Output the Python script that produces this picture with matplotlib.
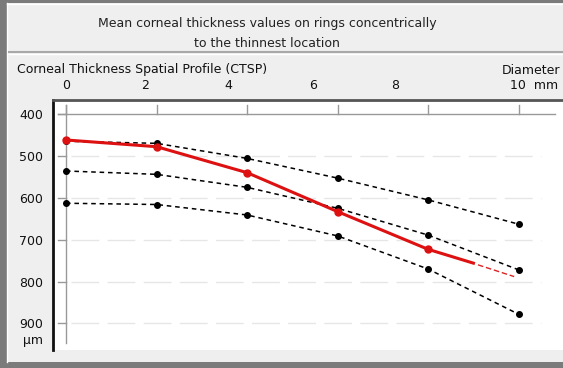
import matplotlib.pyplot as plt
from matplotlib.patches import Rectangle
from matplotlib.lines import Line2D

# ring diameters (mm) and thickness values (um)
diam = [0, 2, 4, 6, 8, 10]
upper = [465, 470, 506, 553, 605, 663]
middle = [536, 544, 575, 625, 689, 772]
lower = [613, 616, 641, 691, 770, 878]

mean_x = [0, 2, 4, 6, 8, 9.0]
mean_y = [462, 478, 540, 633, 723, 756]
ext_x = [9.1, 9.9]
ext_y = [760, 788]

yticks = [400, 500, 600, 700, 800, 900]
xtick_labels = ['0', '2', '4', '6', '8']
xlabel_pos = [0, 1.75, 3.58, 5.46, 7.27]

W, H = 563, 368
fig = plt.figure(figsize=(W / 100, H / 100), dpi=100)
fig.patch.set_facecolor('#7b7b7b')
plt.rcParams['font.family'] = 'DejaVu Sans'
FS = 9


def fx(px):
    return px / W


def fy(py):
    return 1 - py / H


# light panel + title separator
fig.add_artist(Rectangle((fx(7), fy(362)), fx(563 - 7), (362 - 3) / H,
                         transform=fig.transFigure, facecolor='#efefef',
                         edgecolor='none', zorder=-5))
fig.add_artist(Line2D([fx(7), 1], [fy(3.5), fy(3.5)], color='white', lw=1, zorder=-4))
fig.add_artist(Line2D([fx(7.5), fx(7.5)], [fy(3), fy(362)], color='white', lw=1, zorder=-4))
fig.add_artist(Line2D([fx(9), 1], [fy(52), fy(52)], color='#a8a8a8', lw=1.5, zorder=-4))
fig.add_artist(Line2D([fx(9), 1], [fy(54), fy(54)], color='white', lw=1, zorder=-4))

fig.text(fx(267), fy(27), 'Mean corneal thickness values on rings concentrically',
         ha='center', va='baseline', fontsize=FS, color='#222222')
fig.text(fx(267), fy(47), 'to the thinnest location',
         ha='center', va='baseline', fontsize=FS, color='#222222')
fig.text(fx(17), fy(73), 'Corneal Thickness Spatial Profile (CTSP)',
         ha='left', va='baseline', fontsize=FS, color='#111111')
fig.text(fx(560), fy(74), 'Diameter', ha='right', va='baseline',
         fontsize=FS, color='#111111')

# plot area in pixel coordinates
ax = fig.add_axes([fx(53), fy(350), fx(563 - 53), (350 - 100) / H])
ax.set_facecolor('white')
px_per_mm = 45.27
px_per_um = 0.419
ax.set_xlim(-13 / px_per_mm, 497 / px_per_mm)
ax.set_ylim(400 + 236 / px_per_um, 400 - 14 / px_per_um)

for s in ['right', 'bottom']:
    ax.spines[s].set_visible(False)
ax.spines['left'].set_color('#111111')
ax.spines['left'].set_linewidth(2)
ax.spines['top'].set_color('#555555')
ax.spines['top'].set_linewidth(2)

ax.set_xticks([])
ax.set_yticks(yticks)
ax.set_yticklabels([str(v) for v in yticks], fontsize=FS, color='#111111')
ax.tick_params(axis='y', length=0, pad=7)

# x tick labels above the plot
lab_y = 400 - 25 / px_per_um
for p, lab in zip(xlabel_pos, xtick_labels):
    ax.text(p, lab_y, lab, ha='center', va='baseline',
            fontsize=FS, color='#111111', clip_on=False)
ax.text(492 / px_per_mm, lab_y, '10  mm', ha='right',
        va='baseline', fontsize=FS, color='#111111', clip_on=False)
ax.text(-0.51, 900 + 17 / px_per_um, 'µm', ha='right', va='center',
        fontsize=FS, color='#111111', clip_on=False)

# internal axis lines
ax.plot([-0.18, 10.8], [400, 400], color='#999999', lw=1, zorder=1)
ax.plot([0, 0], [378, 946], color='#999999', lw=1, zorder=1)
for d in diam:
    ax.plot([d, d], [378, 400], color='#999999', lw=1, zorder=1)
for v in yticks:
    ax.plot([-0.18, 0], [v, v], color='#999999', lw=1, zorder=1)
for v in yticks[1:]:
    ax.plot([0.1, 10.5], [v, v], color='#e6e6e6', lw=1,
            dashes=(20, 6), zorder=1)

# percentile curves
for vals in (upper, middle, lower):
    ax.plot(diam, vals, color='black', lw=1.1, dashes=(3, 2.5),
            marker='o', markersize=4, zorder=3)

# mean curve
ax.plot(mean_x, mean_y, color='#dd1111', lw=2.2, zorder=4)
ax.plot(mean_x[:5], mean_y[:5], ls='none', marker='o', color='#dd1111',
        markersize=5, zorder=5)
ax.plot(ext_x, ext_y, color='#dd2222', lw=1, dashes=(4, 2), zorder=4)

fig.savefig('out.png', dpi=100, facecolor=fig.get_facecolor())
